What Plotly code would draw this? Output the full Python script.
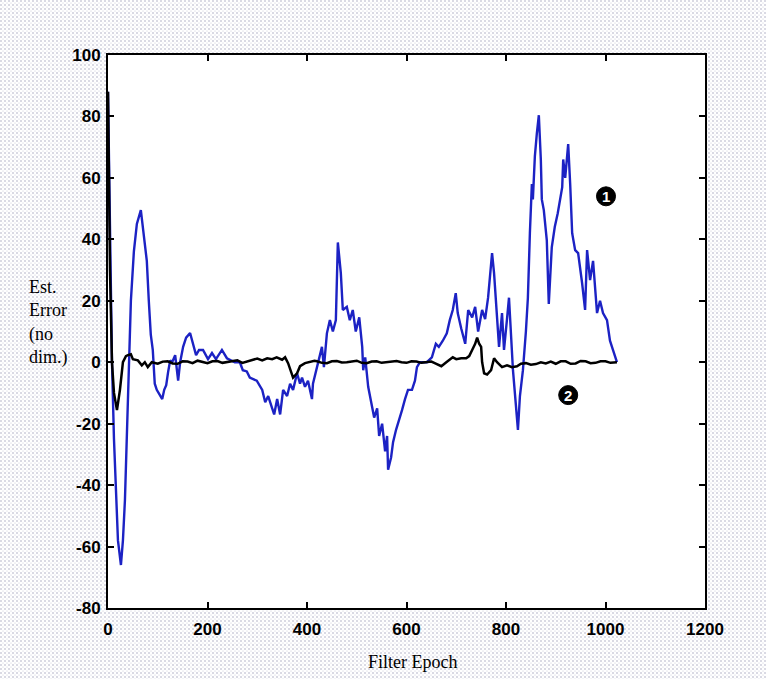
import base64
import plotly.graph_objects as go

# ---- data ----
blue_epoch = [0, 4, 8, 12, 16, 20, 26, 30, 34, 40, 46, 52, 58, 66, 70, 78, 82, 86, 90, 94, 98,
              105, 109, 113, 117, 121, 125, 129, 135, 141, 145, 151, 157, 165, 171, 177, 183, 191,
              201, 209, 217, 229, 239, 255, 265, 271, 279, 285, 299, 310, 316, 322, 330, 334, 340,
              346, 352, 360, 366, 372, 380, 386, 390, 396, 402, 410, 412, 420, 424, 430, 434, 440,
              446, 452, 458, 462, 468, 472, 480, 486, 492, 498, 505, 511, 513, 517, 523, 529, 535,
              541, 545, 551, 557, 561, 563, 569, 573, 579, 585, 591, 597, 603, 611, 617, 621, 627,
              641, 651, 659, 665, 673, 681, 687, 693, 699, 703, 710, 718, 724, 732, 738, 744, 752,
              758, 764, 772, 776, 782, 786, 792, 796, 802, 806, 814, 820, 824, 828, 834, 840, 844,
              848, 852, 854, 858, 862, 866, 870, 872, 876, 882, 886, 892, 898, 904, 913, 915, 919,
              925, 929, 933, 939, 945, 953, 959, 963, 969, 975, 983, 989, 995, 1003, 1009, 1015, 1023]
blue_err = [88, 40, 0, -25, -45, -58, -66, -58, -45, -12, 20, 36, 45, 49.5, 44, 33, 20, 9, 4, -7, -9,
            -11, -12, -9, -7.5, -3, 0.6, 0, 2.3, -6, 0, 5, 8, 9.5, 5.5, 2.3, 4, 4,
            1, 3, 1, 4, 1.3, 0, 0, -2.6, -3, -5, -6, -9, -13, -11, -15, -17, -12,
            -17, -9, -11, -7, -9, -3.6, -7, -5, -8, -6, -12, -7, -1.6, 1.6, 5, -1.6, 9.4,
            13.7, 10, 13.7, 39, 29, 17, 18, 13.7, 17, 10, 14.6, 5, -2.6, 1.6, -8, -13, -18,
            -15, -24, -20, -29, -24, -35, -31, -26, -22, -19, -15.6, -12, -9, -9, -6, -1.6, 0,
            0, 1.6, 6, 5, 7, 9.4, 13.7, 17, 22.5, 16, 11, 6, 17, 14.6, 18, 10, 17,
            14, 21, 35.5, 29, 16, 5, 16, 4, 14, 21, -2.6, -13, -22, -11, -2.6, 10, 21,
            42, 58, 53, 67, 74.5, 80.4, 66, 53, 49.5, 39.7, 19, 37.4, 44, 48.5, 57, 66, 60,
            71, 58, 42, 36.5, 35.5, 25.7, 17, 36.5, 26.7, 33, 16, 20, 16, 13.7, 7, 4, 0]

black_epoch = [0, 4, 8, 12, 18, 24, 30, 36, 40, 46, 50, 60, 68, 74, 80, 88, 100, 110, 120, 130, 140,
               150, 160, 170, 180, 190, 200, 210, 220, 230, 240, 250, 260, 270, 280, 290, 300, 310,
               320, 330, 339, 350, 356, 362, 368, 372, 380, 386, 396, 406, 415, 420, 430, 440, 450,
               460, 470, 480, 490, 500, 510, 520, 530, 540, 550, 560, 570, 580, 590, 600, 610, 620,
               630, 640, 650, 660, 670, 680, 693, 700, 710, 720, 726, 732, 738, 742, 746, 750, 752,
               756, 762, 770, 776, 782, 792, 802, 812, 822, 830, 840, 850, 860, 870, 880, 890, 900,
               910, 920, 930, 940, 950, 960, 970, 980, 990, 1000, 1010, 1023]
black_err = [88, 30, 0, -10, -15.6, -9, 0, 2, 2.3, 2.6, 1, 0.6, -1, 0, -1.6, 0, -0.5, 0.2, 0.3, -0.4, -0.5,
             0.3, 0.2, -0.3, 0.5, 0, -0.3, 0.3, 0.4, -0.2, 0, 0.4, 0.6, -0.2, 0.3, 0.8, 1.2, 0.6,
             1.3, 1.0, 1.6, 0.8, 1.6, -0.3, -3.6, -5, -3.6, -1.3, -0.3, 0, 0.5, 0.3, -0.2, -0.3, 0.3,
             0.4, -0.1, 0, 0.3, 0.5, -0.2, -0.3, 0.2, 0.3, -0.2, 0, 0.3, 0.4, 0, -0.2, 0.3, 0.2,
             -0.2, 0, 0.2, -0.5, -1.3, 0, 1.6, 1.0, 1.3, 1.3, 2, 4, 6, 8, 6, 5, 0,
             -3.6, -4, -2.6, 1.3, 0, -1.6, -1, -1.6, -1.3, -0.5, -0.3, -0.8, -0.6, 0, -0.4, 0.2, -0.5,
             0.3, 0.3, -0.5, -0.4, 0.4, 0.3, -0.3, -0.2, 0.3, 0.3, -0.2, 0]

x_ticks = [0, 200, 400, 600, 800, 1000, 1200]
y_ticks = [-80, -60, -40, -20, 0, 20, 40, 60, 80, 100]

series_labels = ["1", "2"]
label_pos = [(1001, 54), (925, -10.7)]

W, H = 766, 679
ML, MR, MT, MB = 108, 61, 55, 71

# ---- figure ----
fig = go.Figure()
fig.add_trace(go.Scatter(x=blue_epoch, y=blue_err, mode="lines",
                         line=dict(color="#1c22c4", width=2.4), showlegend=False))
fig.add_trace(go.Scatter(x=black_epoch, y=black_err, mode="lines",
                         line=dict(color="#000000", width=2.5), showlegend=False))

tickfont = dict(family="Arial, Liberation Sans, sans-serif", size=17, color="black", weight="bold")
axis_common = dict(showgrid=False, zeroline=False, showline=True, linecolor="black", linewidth=2,
                   mirror="ticks", ticks="inside", ticklen=6, tickwidth=2, tickcolor="black",
                   tickfont=tickfont)

# dotted halftone paper background
svg = (f'<svg xmlns="http://www.w3.org/2000/svg" width="{W}" height="{H}" viewBox="0 0 {W} {H}">'
       '<defs><pattern id="d" width="4" height="4" patternUnits="userSpaceOnUse">'
       '<rect width="4" height="4" fill="#ffffff"/>'
       '<circle cx="1" cy="1" r="0.75" fill="#a4a4bc"/>'
       '<circle cx="3" cy="3" r="0.55" fill="#c4c4d4"/>'
       '</pattern></defs>'
       f'<rect width="{W}" height="{H}" fill="url(#d)"/></svg>')
src = "data:image/svg+xml;base64," + base64.b64encode(svg.encode()).decode()
pw, ph = W - ML - MR, H - MT - MB

fig.update_layout(
    width=W, height=H,
    margin=dict(l=ML, r=MR, t=MT, b=MB),
    paper_bgcolor="#ebebf0",
    plot_bgcolor="white",
    xaxis=dict(range=[0, 1200], tickvals=x_ticks, ticktext=[str(v) for v in x_ticks], **axis_common),
    yaxis=dict(range=[-80, 100], tickvals=y_ticks, ticktext=[str(v) for v in y_ticks], **axis_common),
    images=[dict(source=src, xref="paper", yref="paper", x=-ML / pw, y=1 + MT / ph,
                 sizex=W / pw, sizey=H / ph, sizing="stretch", xanchor="left", yanchor="top",
                 layer="below")],
)
fig.add_shape(type="rect", xref="paper", yref="paper", x0=0, x1=1, y0=0, y1=1,
              fillcolor="white", line=dict(width=0), layer="below")
fig.update_xaxes(ticklabelstandoff=5)
fig.update_yaxes(ticklabelstandoff=2)

serif = "Times New Roman, Liberation Serif, serif"
fig.add_annotation(text="Est.<br>Error<br>(no<br>dim.)", xref="paper", yref="paper",
                   x=-0.135, y=0.517, xanchor="left", yanchor="middle", align="left",
                   showarrow=False, font=dict(family=serif, size=18, color="black"))
fig.add_annotation(text="Filter Epoch", xref="paper", yref="paper",
                   x=0.51, y=-0.098, xanchor="center", yanchor="middle",
                   showarrow=False, font=dict(family=serif, size=18, color="black"))

for lab, (lx, ly) in zip(series_labels, label_pos):
    fig.add_shape(type="circle", xref="x", yref="y", xsizemode="pixel", ysizemode="pixel",
                  xanchor=lx, yanchor=ly, x0=-9.5, x1=9.5, y0=-9.5, y1=9.5,
                  fillcolor="black", line=dict(color="black", width=1))
    fig.add_annotation(text="<b>" + lab + "</b>", x=lx, y=ly, showarrow=False,
                       font=dict(family="Arial, Liberation Sans, sans-serif", size=15, color="white"))

fig.write_html("out.html")
